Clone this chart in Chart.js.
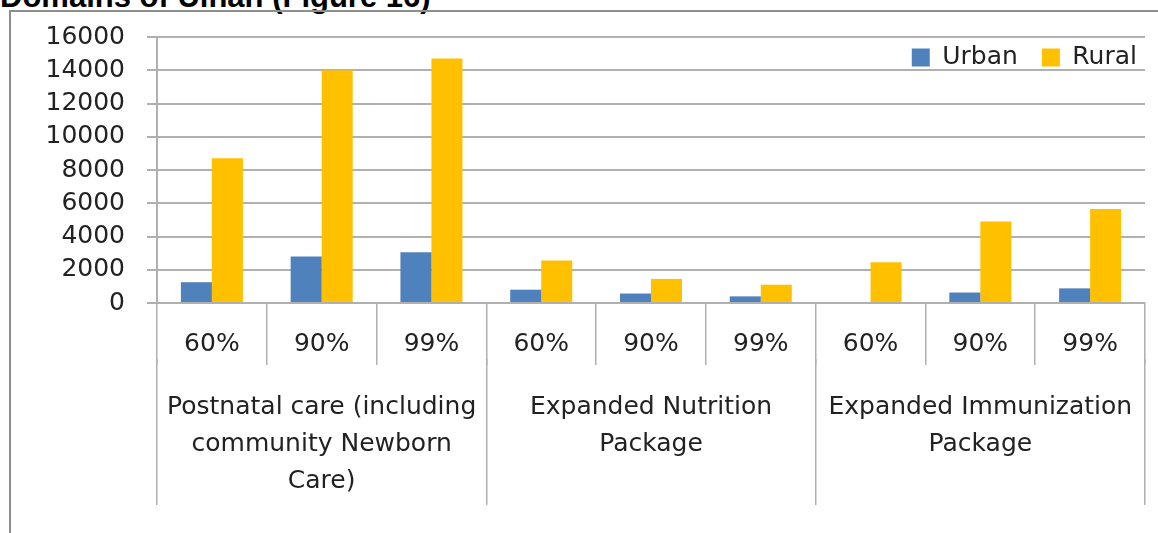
<!DOCTYPE html>
<html>
<head>
<meta charset="utf-8">
<script src="https://cdn.jsdelivr.net/npm/chart.js@4/dist/chart.umd.min.js"></script>
<style>
  html, body { margin: 0; padding: 0; background: #fff; }
  #wrap { position: relative; width: 1158px; height: 533px; overflow: hidden; }
  #heading {
    position: absolute; left: 0; top: -19px; margin: 0;
    font: bold 31px "Liberation Sans", Arial, sans-serif; line-height: 31px;
    color: #000; white-space: nowrap;
  }
  #frame {
    position: absolute; left: 9px; top: 10px; width: 1200px; height: 600px;
    border-left: 2px solid #8e8e8e; border-top: 2px solid #8e8e8e;
  }
  #chart-box { position: absolute; left: 0; top: 0; width: 1158px; height: 533px; }
</style>
</head>
<body>
<div id="wrap">
  <div id="heading">Domains of Ulnah (Figure 16)</div>
  <div id="frame"></div>
  <div id="chart-box"><canvas id="coverage-chart"></canvas></div>
</div>
<script>
// coverage levels under each package
const levels = ['60%', '90%', '99%', '60%', '90%', '99%', '60%', '90%', '99%'];
const packages = [
    ['Postnatal care (including', 'community Newborn', 'Care)'],
    ['Expanded Nutrition', 'Package'],
    ['Expanded Immunization', 'Package']
];
const urban = [1250, 2800, 3050, 800, 570, 400, 0, 630, 880];
const rural = [8700, 14000, 14700, 2550, 1450, 1100, 2450, 4900, 5650];
const yMin = 0;
const yMax = 16000;
const yStep = 2000;

const gridGrey = '#b0b0b0';
const textColor = '#222222';
const labelFont = { family: 'DejaVu Sans', size: 25 };

// keep the legend row inside the top of the plot area
const legendInPlot = {
    id: 'legendInPlot',
    afterLayout: function (chart) {
        const lg = chart.legend;
        const dy = chart.chartArea.top - 16 - lg.top;
        const dx = 16;
        lg.top += dy;
        lg.bottom += dy;
        lg.left += dx;
        lg.right += dx;
    }
};

const ctx = document.getElementById('coverage-chart').getContext('2d');
new Chart(ctx, {
    type: 'bar',
    data: {
        labels: levels,
        datasets: [
            { label: 'Urban', data: urban, backgroundColor: '#4F81BD', borderWidth: 0 },
            { label: 'Rural', data: rural, backgroundColor: '#FFC000', borderWidth: 0 }
        ]
    },
    plugins: [legendInPlot],
    options: {
        responsive: true,
        maintainAspectRatio: false,
        animation: false,
        layout: { padding: { left: 0, right: 13, top: -22, bottom: 0 } },
        datasets: {
            bar: { categoryPercentage: 0.565, barPercentage: 1.0 }
        },
        scales: {
            y: {
                min: yMin,
                max: yMax,
                ticks: {
                    stepSize: yStep, color: textColor, font: labelFont, padding: 22,
                    callback: function (value) { return String(value); }
                },
                grid: { color: gridGrey, lineWidth: 2, tickLength: 10 },
                border: { color: gridGrey, width: 2 },
                afterFit: function (scale) { scale.width = 157; }
            },
            x: {
                ticks: { color: textColor, font: labelFont, padding: -36 },
                grid: { drawOnChartArea: false, offset: true, color: gridGrey, lineWidth: 1.5, tickLength: 62 },
                border: { color: gridGrey, width: 2 },
                afterFit: function (scale) { scale.height = 56; }
            },
            pkg: {
                type: 'category',
                position: 'bottom',
                labels: packages,
                offset: true,
                ticks: { color: textColor, font: { family: 'DejaVu Sans', size: 25, lineHeight: '37px' }, padding: -116 },
                grid: { drawOnChartArea: false, offset: true, color: gridGrey, lineWidth: 1.5, tickLength: 146 },
                border: { display: false },
                afterFit: function (scale) { scale.height = 174; }
            }
        },
        plugins: {
            legend: {
                position: 'top',
                align: 'end',
                labels: {
                    color: textColor,
                    font: labelFont,
                    boxWidth: 18,
                    boxHeight: 18,
                    padding: 24
                }
            },
            tooltip: { enabled: false }
        }
    }
});
</script>
</body>
</html>
